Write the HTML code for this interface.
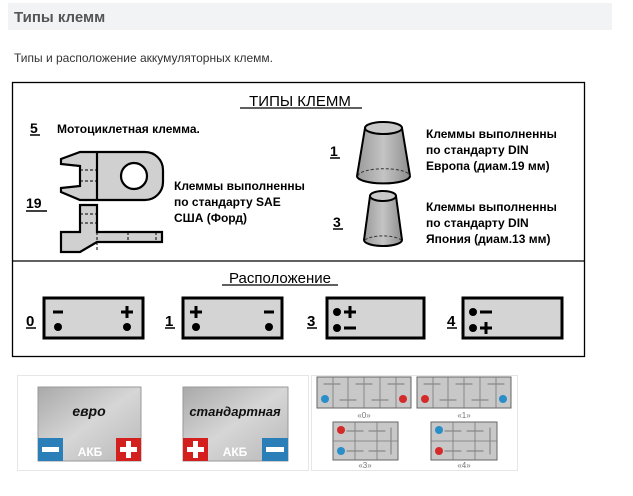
<!DOCTYPE html>
<html><head><meta charset="utf-8"><style>
body{margin:0;background:#fff;width:633px;height:496px;overflow:hidden}
svg{display:block}
</style></head><body>
<svg width="633" height="496" viewBox="0 0 633 496" xmlns="http://www.w3.org/2000/svg" font-family="Liberation Sans, DejaVu Sans, sans-serif">
<defs>
<linearGradient id="g1" x1="0" y1="0" x2="1" y2="1"><stop offset="0" stop-color="#a9a9a9"/><stop offset="0.5" stop-color="#d6d6d6"/><stop offset="1" stop-color="#b8b8b8"/></linearGradient>
<linearGradient id="cup" x1="0" y1="0" x2="1" y2="0"><stop offset="0" stop-color="#9a9a9a"/><stop offset="0.5" stop-color="#c4c4c4"/><stop offset="1" stop-color="#8e8e8e"/></linearGradient>
</defs>
<rect x="8" y="3" width="604" height="27" fill="#f2f3f4"/>
<text x="14" y="22" font-size="15" font-weight="bold" fill="#555">Типы клемм</text>
<text x="14" y="62" font-size="12" fill="#333">Типы и расположение аккумуляторных клемм.</text>
<rect x="12.5" y="82.5" width="572" height="274" fill="#fff" stroke="#000" stroke-width="1.3"/>
<line x1="12" y1="261" x2="585" y2="261" stroke="#000" stroke-width="1.3"/>
<text x="300" y="106" font-size="15" text-anchor="middle" fill="#000">ТИПЫ КЛЕММ</text>
<line x1="240" y1="108" x2="362" y2="108" stroke="#000" stroke-width="1.2"/>
<text x="30" y="133" font-size="14" font-weight="bold">5</text><line x1="30" y1="135" x2="40" y2="135" stroke="#000" stroke-width="1.5"/>
<text x="57" y="133" font-size="12" font-weight="bold">Мотоциклетная клемма.</text>
<text x="26" y="208" font-size="14" font-weight="bold">19</text><line x1="26" y1="211" x2="47" y2="211" stroke="#000" stroke-width="1.5"/>
<text x="174" y="190" font-size="12" font-weight="bold">Клеммы выполненны</text>
<text x="174" y="206" font-size="12" font-weight="bold">по стандарту SAE</text>
<text x="174" y="222" font-size="12" font-weight="bold">США (Форд)</text>
<g stroke="#000" stroke-width="2.2" fill="#d0d0d0">
<path d="M80 152 L145 152 A18 18 0 0 1 163 170 L163 182 A18 18 0 0 1 145 200 L80 200 L61 192 L61 188 L80 186 L80 166 L61 164 L61 159 Z"/>
<circle cx="134" cy="176" r="13" fill="#fff"/>
<line x1="97" y1="152" x2="97" y2="200"/>
<path d="M80 205 L97 205 L97 232 L162 232 L162 242 L97 242 L80 252 L61 252 L61 232 L80 232 Z"/>
</g>
<g stroke="#000" stroke-width="1" stroke-dasharray="3,2" fill="none">
<line x1="80" y1="170" x2="97" y2="170"/><line x1="80" y1="181" x2="97" y2="181"/>
<line x1="80" y1="214" x2="97" y2="214"/><line x1="80" y1="223" x2="97" y2="223"/>
<line x1="97" y1="232" x2="97" y2="252"/><line x1="128" y1="232" x2="128" y2="242"/><line x1="156" y1="232" x2="156" y2="242"/>
</g>
<text x="330" y="156" font-size="14" font-weight="bold">1</text><line x1="330" y1="158" x2="340" y2="158" stroke="#000" stroke-width="1.5"/>
<text x="333" y="227" font-size="14" font-weight="bold">3</text><line x1="333" y1="229" x2="343" y2="229" stroke="#000" stroke-width="1.5"/>
<g stroke="#000" stroke-width="2">
<path d="M365 128 L357 176 A25 7 0 0 0 410 176 L402 128 Z" fill="url(#cup)"/>
<ellipse cx="383.5" cy="128" rx="18.5" ry="6" fill="#c9c9c9"/>
<path d="M370 196 L364 240 A19 6 0 0 0 402 240 L396 196 Z" fill="url(#cup)"/>
<ellipse cx="383" cy="196" rx="13" ry="5" fill="#c9c9c9"/>
</g>
<path d="M358 176 A25 7 0 0 1 410 176" stroke="#333" stroke-width="1" stroke-dasharray="3,2" fill="none"/>
<path d="M365 240 A19 6 0 0 1 401 240" stroke="#333" stroke-width="1" stroke-dasharray="3,2" fill="none"/>
<text x="426" y="138" font-size="12" font-weight="bold">Клеммы выполненны</text>
<text x="426" y="154" font-size="12" font-weight="bold">по стандарту DIN</text>
<text x="426" y="170" font-size="12" font-weight="bold">Европа (диам.19 мм)</text>
<text x="426" y="211" font-size="12" font-weight="bold">Клеммы выполненны</text>
<text x="426" y="227" font-size="12" font-weight="bold">по стандарту DIN</text>
<text x="426" y="243" font-size="12" font-weight="bold">Япония (диам.13 мм)</text>
<text x="280" y="283" font-size="15" text-anchor="middle">Расположение</text>
<line x1="222" y1="285" x2="338" y2="285" stroke="#000" stroke-width="1.2"/>
<g font-size="15" font-weight="bold">
<text x="26" y="326">0</text><line x1="26" y1="328" x2="36" y2="328" stroke="#000" stroke-width="1.5"/>
<text x="165" y="326">1</text><line x1="165" y1="328" x2="175" y2="328" stroke="#000" stroke-width="1.5"/>
<text x="307" y="326">3</text><line x1="307" y1="328" x2="317" y2="328" stroke="#000" stroke-width="1.5"/>
<text x="447" y="326">4</text><line x1="447" y1="328" x2="457" y2="328" stroke="#000" stroke-width="1.5"/>
</g>
<g stroke="#000" stroke-width="3" fill="#d4d4d4">
<rect x="44" y="298" width="99" height="40"/>
<rect x="183" y="298" width="99" height="40"/>
<rect x="327" y="298" width="97" height="40"/>
<rect x="463" y="298" width="99" height="40"/>
</g>
<g fill="#000">
<circle cx="58" cy="327" r="4"/><circle cx="127" cy="327" r="4"/>
<circle cx="196" cy="327" r="4"/><circle cx="269" cy="327" r="4"/>
<circle cx="337" cy="312" r="4"/><circle cx="337" cy="328" r="4"/>
<circle cx="473" cy="312" r="4"/><circle cx="473" cy="328" r="4"/>
</g>
<g stroke="#000" stroke-width="3">
<line x1="53" y1="312" x2="63" y2="312"/>
<line x1="121" y1="312" x2="133" y2="312"/><line x1="127" y1="306" x2="127" y2="318"/>
<line x1="190" y1="312" x2="202" y2="312"/><line x1="196" y1="306" x2="196" y2="318"/>
<line x1="264" y1="312" x2="274" y2="312"/>
<line x1="344" y1="312" x2="356" y2="312"/><line x1="350" y1="306" x2="350" y2="318"/>
<line x1="344" y1="328" x2="356" y2="328"/>
<line x1="480" y1="312" x2="492" y2="312"/>
<line x1="480" y1="328" x2="492" y2="328"/><line x1="486" y1="322" x2="486" y2="334"/>
</g>
<rect x="17.5" y="375.5" width="291" height="95" fill="#fff" stroke="#e6e6e6"/>
<rect x="38" y="387" width="103" height="74" fill="url(#g1)" stroke="#999"/>
<rect x="183" y="387" width="105" height="74" fill="url(#g1)" stroke="#999"/>
<text x="89" y="416" font-size="14" font-weight="bold" font-style="italic" text-anchor="middle" fill="#111">евро</text>
<text x="235" y="416" font-size="13" font-weight="bold" font-style="italic" text-anchor="middle" fill="#111">стандартная</text>
<text x="90" y="456" font-size="12" font-weight="bold" text-anchor="middle" fill="#fff">АКБ</text>
<text x="235" y="456" font-size="12" font-weight="bold" text-anchor="middle" fill="#fff">АКБ</text>
<rect x="38" y="438" width="25" height="23" fill="#2a7fb8"/><rect x="42" y="447" width="17" height="5" fill="#fff"/>
<rect x="116" y="438" width="25" height="23" fill="#d41f1f"/><rect x="120" y="447" width="17" height="5" fill="#fff"/><rect x="126" y="441" width="5" height="17" fill="#fff"/>
<rect x="183" y="438" width="25" height="23" fill="#d41f1f"/><rect x="187" y="447" width="17" height="5" fill="#fff"/><rect x="193" y="441" width="5" height="17" fill="#fff"/>
<rect x="262" y="438" width="26" height="23" fill="#2a7fb8"/><rect x="266" y="447" width="18" height="5" fill="#fff"/>
<rect x="311.5" y="375.5" width="206" height="95" fill="#fff" stroke="#e6e6e6"/>
<g stroke="#666" stroke-width="1" fill="#c8c8c8">
<rect x="317" y="377" width="94" height="31"/>
<rect x="417" y="377" width="94" height="31"/>
<rect x="333" y="422" width="65" height="38"/>
<rect x="431" y="422" width="66" height="38"/>
</g>
<g stroke="#777" stroke-width="0.8">
<line x1="333" y1="377" x2="333" y2="408"/><line x1="348" y1="377" x2="348" y2="408"/><line x1="364" y1="377" x2="364" y2="408"/><line x1="380" y1="377" x2="380" y2="408"/><line x1="396" y1="377" x2="396" y2="408"/>
<line x1="433" y1="377" x2="433" y2="408"/><line x1="448" y1="377" x2="448" y2="408"/><line x1="464" y1="377" x2="464" y2="408"/><line x1="480" y1="377" x2="480" y2="408"/><line x1="496" y1="377" x2="496" y2="408"/>
<line x1="333" y1="441" x2="398" y2="441"/><line x1="355" y1="422" x2="355" y2="460"/><line x1="377" y1="422" x2="377" y2="460"/>
<line x1="431" y1="441" x2="497" y2="441"/><line x1="453" y1="422" x2="453" y2="460"/><line x1="475" y1="422" x2="475" y2="460"/>
</g>
<g stroke="#888" stroke-width="1.2" stroke-linecap="round">
<line x1="324" y1="384" x2="340" y2="384"/><line x1="356" y1="384" x2="372" y2="384"/><line x1="388" y1="384" x2="404" y2="384"/>
<line x1="340" y1="400" x2="356" y2="400"/><line x1="372" y1="400" x2="388" y2="400"/>
<line x1="424" y1="384" x2="440" y2="384"/><line x1="456" y1="384" x2="472" y2="384"/><line x1="488" y1="384" x2="504" y2="384"/>
<line x1="440" y1="400" x2="456" y2="400"/><line x1="472" y1="400" x2="488" y2="400"/>
<line x1="347" y1="431" x2="363" y2="431"/><line x1="369" y1="431" x2="385" y2="431"/><line x1="347" y1="451" x2="363" y2="451"/><line x1="369" y1="451" x2="385" y2="451"/><line x1="391" y1="428" x2="391" y2="454"/>
<line x1="445" y1="431" x2="461" y2="431"/><line x1="467" y1="431" x2="483" y2="431"/><line x1="445" y1="451" x2="461" y2="451"/><line x1="467" y1="451" x2="483" y2="451"/><line x1="490" y1="428" x2="490" y2="454"/>
</g>
<circle cx="325" cy="399" r="4" fill="#2a8fc8"/><circle cx="403" cy="399" r="4" fill="#d42a2a"/>
<circle cx="425" cy="399" r="4" fill="#d42a2a"/><circle cx="503" cy="399" r="4" fill="#2a8fc8"/>
<circle cx="341" cy="430" r="4" fill="#d42a2a"/><circle cx="341" cy="451" r="4" fill="#2a8fc8"/>
<circle cx="439" cy="430" r="4" fill="#2a8fc8"/><circle cx="439" cy="451" r="4" fill="#d42a2a"/>
<g font-size="8" fill="#777" text-anchor="middle">
<text x="364" y="418">«0»</text><text x="464" y="418">«1»</text>
<text x="365" y="468">«3»</text><text x="464" y="468">«4»</text>
</g>
</svg>
</body></html>
